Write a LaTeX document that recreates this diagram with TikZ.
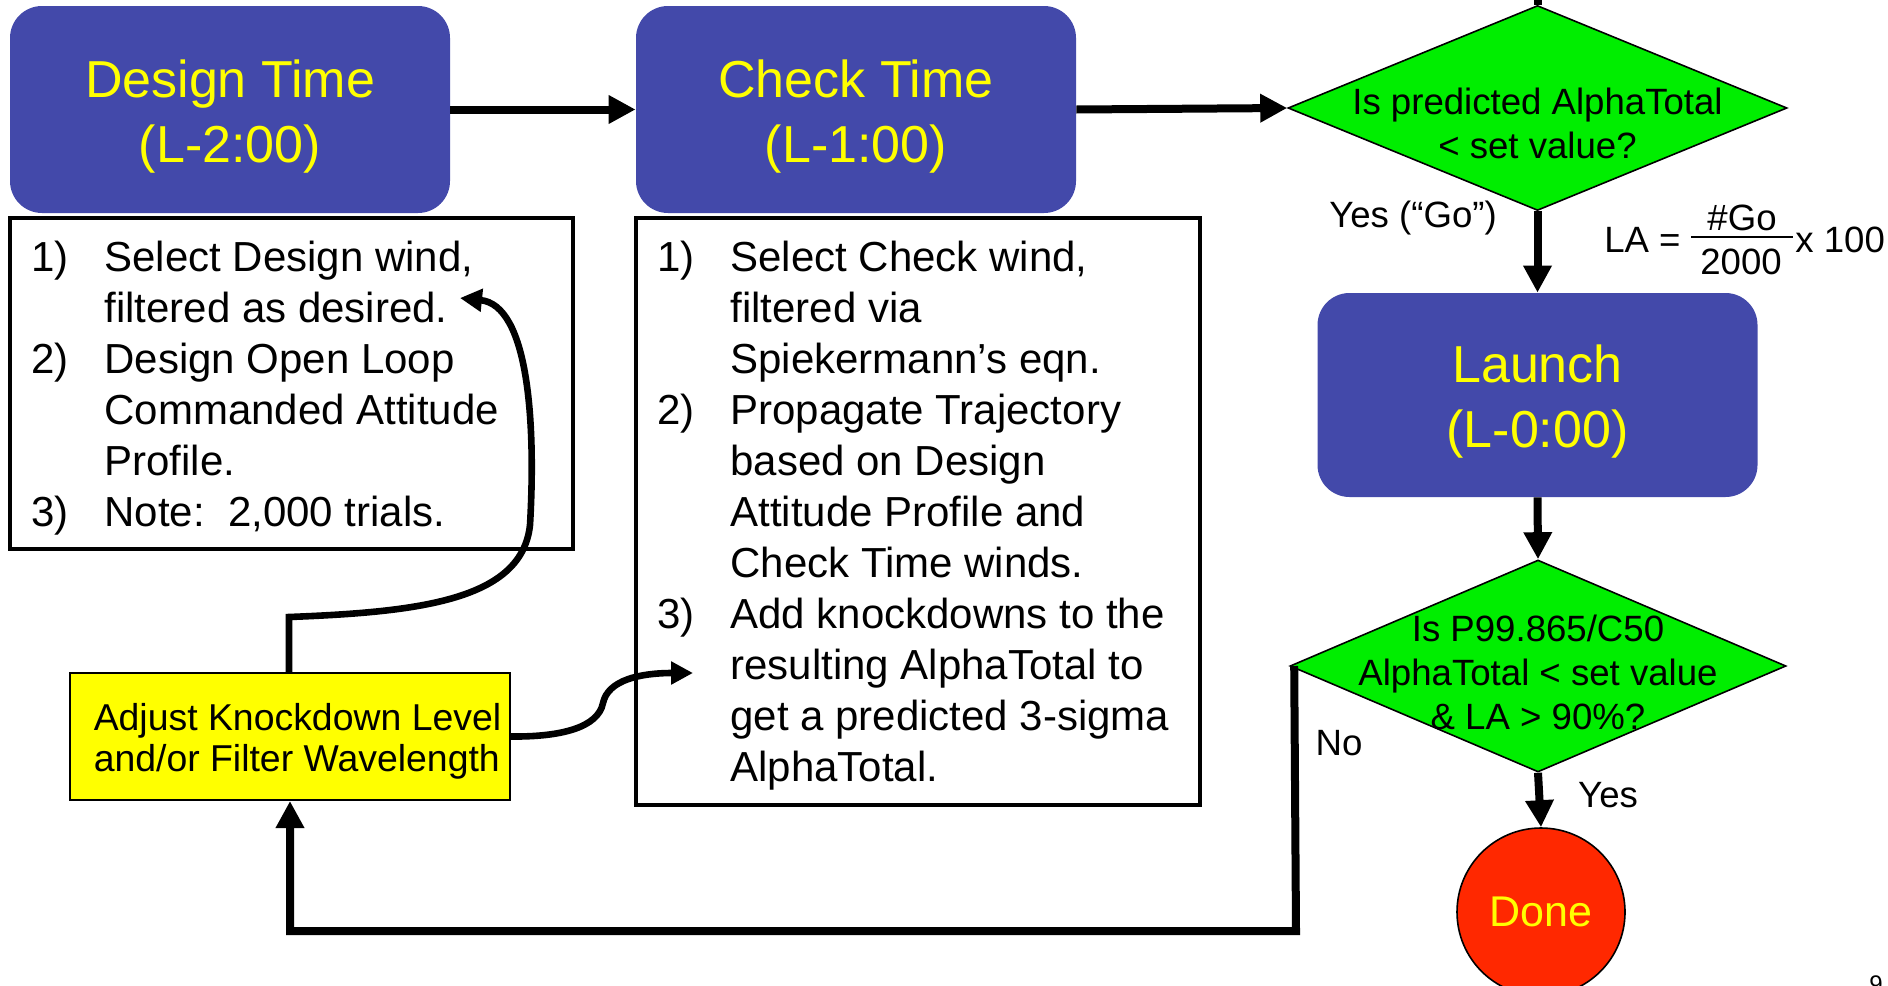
\documentclass[tikz,border=0pt]{standalone}
\usepackage{fontspec}
\setmainfont{Liberation Sans}
\usetikzlibrary{shapes.geometric, arrows.meta}
\definecolor{boxblue}{RGB}{67,73,170}
\definecolor{dgreen}{RGB}{0,238,0}
\definecolor{donered}{RGB}{255,40,0}
\definecolor{tyellow}{RGB}{255,255,0}
\newcommand\listnum[1]{\makebox[36.5pt][l]{#1}}
\newcommand\listind{\hspace*{36.5pt}}
\begin{document}
\begin{tikzpicture}[x=0.5pt,y=-0.5pt,
  bluebox/.style={draw=none, fill=boxblue, rounded corners=16pt, minimum width=220pt, minimum height=103.5pt, inner sep=0pt},
  bluetext/.style={text=tyellow, align=center, inner sep=0pt, font=\fontsize{26}{32.5}\selectfont},
  listbox/.style={draw=black, line width=1.9pt, fill=white, inner sep=0pt},
  listtext/.style={align=left, anchor=north west, inner sep=0pt, font=\fontsize{21}{25.5}\selectfont},
  decision/.style={diamond, draw=black, line width=0.8pt, fill=dgreen, inner sep=0pt},
  dtext/.style={align=center, inner sep=0pt, font=\fontsize{18.3}{22}\selectfont},
  lbl/.style={font=\fontsize{18.3}{22}\selectfont, inner sep=0pt},
  flow/.style={line width=4pt, -{Triangle[length=13.5pt,width=13.5pt]}},
  loopline/.style={line width=3.3pt, -{Triangle[length=11pt,width=11pt]}},
]
\useasboundingbox (0,0) rectangle (1888,985);
\clip (0,0) rectangle (1888,985);

% time boxes
\node[bluebox] (design) at (230,109.5) {};
\node[bluetext] (designtext) at (230,117) {Design Time\\(L-2:00)};
\node[bluebox] (check) at (856,109.5) {};
\node[bluetext] (checktext) at (856,117) {Check Time\\(L-1:00)};
\node[bluebox, minimum height=102pt] (launch) at (1537.5,395) {};
\node[bluetext] (launchtext) at (1537.5,402) {Launch\\(L-0:00)};

% list boxes
\node[listbox, minimum width=281.5pt, minimum height=165.5pt] (dlist) at (291.5,383.5) {};
\node[listtext] (dlisttext) at (31,241) {\listnum{1)}Select Design wind,\\
\listind filtered as desired.\\
\listnum{2)}Design Open Loop\\
\listind Commanded Attitude\\
\listind Profile.\\
\listnum{3)}Note:\ \ 2,000 trials.};

\node[listbox, minimum width=282pt, minimum height=293.5pt] (clist) at (918,511.5) {};
\node[listtext] (clisttext) at (657,241) {\listnum{1)}Select Check wind,\\
\listind filtered via\\
\listind Spiekermann’s eqn.\\
\listnum{2)}Propagate Trajectory\\
\listind based on Design\\
\listind Attitude Profile and\\
\listind Check Time winds.\\
\listnum{3)}Add knockdowns to the\\
\listind resulting AlphaTotal to\\
\listind get a predicted 3-sigma\\
\listind AlphaTotal.};

% decisions
\node[decision, minimum width=249.5pt, minimum height=102.5pt] (d1) at (1537.5,108) {};
\node[dtext] (d1text) at (1537.5,123.5) {Is predicted AlphaTotal\\< set value?};
\node[decision, minimum width=248pt, minimum height=106pt] (d2) at (1538,666) {};
\node[dtext] (d2text) at (1538,672) {Is P99.865/C50\\AlphaTotal < set value\\\& LA > 90\%?};

% done
\node[circle, draw=black, line width=0.8pt, fill=donered, minimum size=84pt, inner sep=0pt,
  text=tyellow, font=\fontsize{21.5}{26}\selectfont] (done) at (1541,912) {Done};

% adjust box
\node[draw=black, line width=1pt, fill=tyellow, minimum width=220pt, minimum height=63.5pt, inner sep=0pt] (adjust) at (290,736.5) {};
\node[align=left, inner sep=0pt, font=\fontsize{18.7}{20.5}\selectfont] (adjusttext) at (297.5,741) {Adjust Knockdown Level\\and/or Filter Wavelength};

% main flow
\draw[flow] (design.east) -- (check.west);
\draw[flow] (check.east) -- (d1.west);
\coordinate (topin) at (1537.5,-20);
\draw[line width=4pt] (topin) -- (d1.north);
\draw[flow] (d1.south) -- (launch.north);
\draw[flow] (launch.south) -- (d2.north);
\draw[flow] (d2.south) -- (done.north);
\coordinate (nocorner) at (1296,931);
\draw[flow, line join=miter] ([xshift=2.5pt]d2.west) -- (nocorner) -| (adjust.south);

% labels
\node[lbl] (yesgo) at (1413,218) {Yes (“Go”)};
\node[lbl] (no) at (1339,743) {No};
\node[lbl] (yes) at (1608,795) {Yes};
\node[lbl, anchor=east] (la) at (1681,240) {LA =};
\node[lbl] (num) at (1742,218) {\#Go};
\node[lbl] (den) at (1741,262) {2000};
\coordinate (barl) at (1691,237);
\coordinate (barr) at (1793,237);
\draw[line width=1pt] (barl) -- (barr);
\node[lbl, anchor=west] (times) at (1795,240) {x 100};

% feedback curves
\coordinate (atop) at (289,617);
\coordinate (dtip) at (460,298);
\draw[loopline] ([xshift=-0.5pt]adjust.north) -- (atop) .. controls (420,612) and (522,600) .. (530,525) .. controls (536,420) and (528,305) .. (dtip);
\coordinate (ctip) at (693,673);
\draw[loopline] (adjust.east) .. controls (560,737) and (598,728) .. (603,703) .. controls (608,680) and (640,673) .. (ctip);

% page number
\node[font=\fontsize{12}{14}\selectfont, anchor=north, inner sep=0pt] (pagenum) at (1876,975) {9};
\end{tikzpicture}
\end{document}
